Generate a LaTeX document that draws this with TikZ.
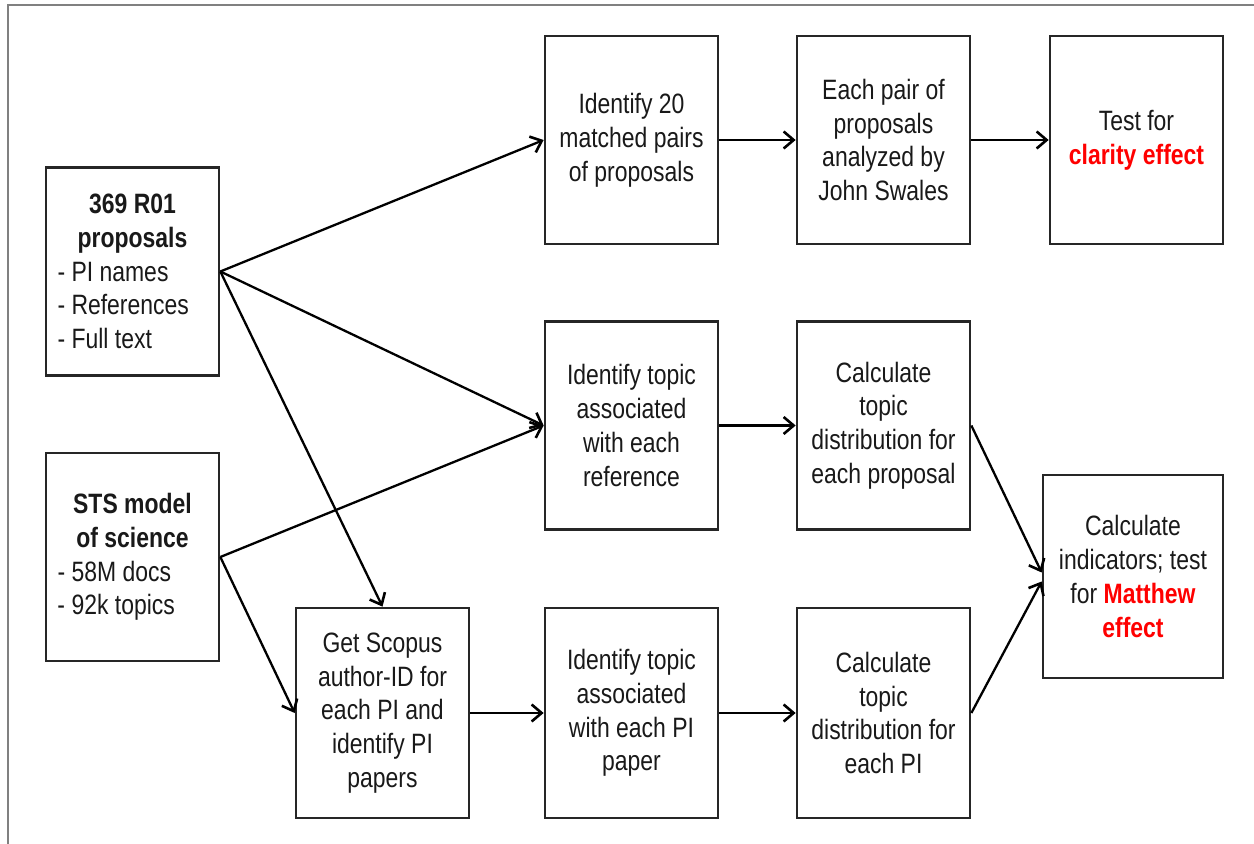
\documentclass[tikz,border=0pt]{standalone}
\usepackage{fontspec}
\setmainfont{Liberation Sans}[FakeStretch=0.82]
\usetikzlibrary{arrows.meta}
\definecolor{framegray}{RGB}{128,128,128}
\definecolor{txt}{RGB}{25,25,25}
\definecolor{hl}{RGB}{255,0,0}
\begin{document}
\begin{tikzpicture}[x=0.5pt,y=-0.5pt,
  box/.style={draw=black!85, line width=1.35pt, minimum width=86.5pt, minimum height=104pt,
    align=center, inner sep=0pt, font=\fontsize{14}{16.9}\selectfont, text=txt},
  arr/.style={-{Straight Barb[length=5pt,width=8.5pt,line width=1.3pt]}, line width=1.15pt, black}]
\useasboundingbox (0,0) rectangle (1254,844);
\draw[framegray, line width=1pt] (8,844) -- (8,5) -- (1254,5);

\node[box] (A) at (132.5,271.5) {\parbox{75pt}{\centering\textbf{369 R01}\\\textbf{proposals}\par\raggedright - PI names\\- References\\- Full text}};
\node[box] (B) at (132.5,557) {\parbox{75pt}{\centering\textbf{STS model}\\\textbf{of science}\par\raggedright - 58M docs\\- 92k topics}};
\node[box, minimum height=105pt] (C) at (382.5,713) {Get Scopus\\author-ID for\\each PI and\\identify PI\\papers};

\node[box] (D) at (631.5,140) {Identify 20\\matched pairs\\of proposals};
\node[box] (E) at (883.5,140) {Each pair of\\proposals\\analyzed by\\John Swales};
\node[box] (F) at (1136.5,140) {Test for\\\textcolor{hl}{\textbf{clarity effect}}};

\node[box] (G) at (631.5,425.5) {Identify topic\\associated\\with each\\reference};
\node[box] (H) at (883.5,425.5) {Calculate\\topic\\distribution for\\each proposal};

\node[box, minimum height=105pt] (I) at (631.5,713) {Identify topic\\associated\\with each PI\\paper};
\node[box, minimum height=105pt] (J) at (883.5,713) {Calculate\\topic\\distribution for\\each PI};

\node[box, minimum width=90pt, minimum height=101.5pt] (K) at (1133,576.5) {Calculate\\indicators; test\\for \textcolor{hl}{\textbf{Matthew}}\\\textcolor{hl}{\textbf{effect}}};

\draw[arr] (A.east) -- (D.west);
\draw[arr] (A.east) -- (G.west);
\draw[arr] (A.east) -- (C.north);
\draw[arr] (B.east) -- (G.west);
\draw[arr] (B.east) -- (C.west);
\draw[arr] (D) -- (E);
\draw[arr] (E) -- (F);
\draw[arr] (G) -- (H);
\draw[arr] (C) -- (I);
\draw[arr] (I) -- (J);
\draw[arr] (H.east) -- ([yshift=2pt]K.west);
\draw[arr] (J.east) -- ([yshift=-2.5pt]K.west);
\end{tikzpicture}
\end{document}
